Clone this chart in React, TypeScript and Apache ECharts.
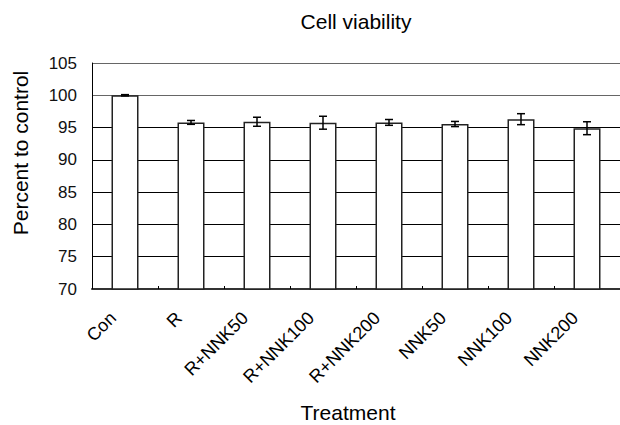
import React, { useEffect, useRef } from "react";
import * as echarts from "echarts";

const categories = ["Con", "R", "R+NNK50", "R+NNK100", "R+NNK200", "NNK50", "NNK100", "NNK200"];
const means = [100, 95.8, 95.9, 95.75, 95.8, 95.55, 96.3, 94.9];
const errors = [0.1, 0.3, 0.7, 1.0, 0.45, 0.4, 0.85, 1.0];
const yMin = 70;
const yMax = 105;
const yStep = 5;
const titleText = "Cell viability";
const xTitle = "Treatment";
const yTitle = "Percent to control";

const FONT = "'Liberation Sans', Arial, sans-serif";

export default function App() {
  const ref = useRef<HTMLDivElement>(null);
  useEffect(() => {
    document.body.style.margin = "0";
    if (!ref.current) return;
    const chart = echarts.init(ref.current, null, { renderer: "svg" });
    const errData = means.map((m, i) => [i, m - errors[i], m + errors[i]]);
    const splitColors = ["#000", "#000", "#000", "#000", "#000", "#000", "#666", "#666"];
    chart.setOption({
      animation: false,
      backgroundColor: "#fff",
      textStyle: { fontFamily: FONT },
      grid: { left: 92, top: 63, width: 530, height: 226, containLabel: false },
      graphic: [
        {
          type: "text",
          x: 356,
          y: 21,
          style: { text: titleText, font: `21px ${FONT}`, fill: "#000", textAlign: "center", textVerticalAlign: "middle" },
        },
        {
          type: "text",
          x: 348,
          y: 412,
          style: { text: xTitle, font: `21px ${FONT}`, fill: "#000", textAlign: "center", textVerticalAlign: "middle" },
        },
        {
          type: "text",
          x: 20,
          y: 153,
          rotation: Math.PI / 2,
          style: { text: yTitle, font: `21px ${FONT}`, fill: "#000", textAlign: "center", textVerticalAlign: "middle" },
        },
      ],
      xAxis: {
        type: "category",
        data: categories,
        axisLine: { lineStyle: { color: "#333", width: 2 } },
        axisTick: { show: true, inside: true, length: 3, lineStyle: { color: "#000" } },
        axisLabel: {
          rotate: 45,
          margin: 14,
          padding: [0, 17, 0, 0],
          color: "#000",
          fontSize: 18,
          fontFamily: FONT,
          interval: 0,
        },
      },
      yAxis: {
        type: "value",
        min: yMin,
        max: yMax,
        interval: yStep,
        axisLine: { show: true, lineStyle: { color: "#000", width: 1 } },
        axisTick: { show: false },
        axisLabel: { color: "#111", fontSize: 17, fontFamily: FONT, margin: 15 },
        splitLine: { show: true, lineStyle: { color: splitColors, width: 1.2 } },
      },
      series: [
        {
          type: "bar",
          data: means,
          barWidth: 27,
          itemStyle: { color: "#fff", borderColor: "#222", borderWidth: 1.5 },
          z: 2,
        },
        {
          type: "custom",
          data: errData,
          z: 3,
          renderItem: (params: any, api: any) => {
            const x = api.value(0);
            const lo = api.coord([x, api.value(1)]);
            const hi = api.coord([x, api.value(2)]);
            const half = 4;
            const style = { stroke: "#000", lineWidth: 1.5 };
            return {
              type: "group",
              children: [
                { type: "line", shape: { x1: lo[0], y1: lo[1], x2: hi[0], y2: hi[1] }, style },
                { type: "line", shape: { x1: lo[0] - half, y1: lo[1], x2: lo[0] + half, y2: lo[1] }, style },
                { type: "line", shape: { x1: hi[0] - half, y1: hi[1], x2: hi[0] + half, y2: hi[1] }, style },
              ],
            };
          },
        },
      ],
    });
    return () => chart.dispose();
  }, []);
  return <div ref={ref} style={{ width: 620, height: 425 }} />;
}
